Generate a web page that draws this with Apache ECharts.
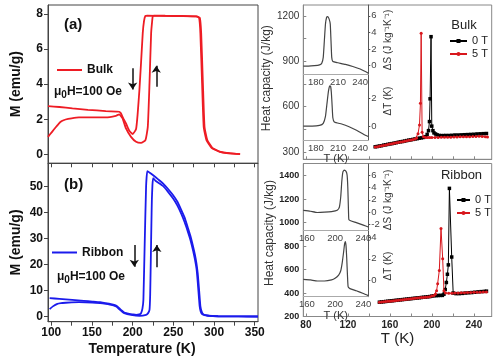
<!DOCTYPE html>
<html><head><meta charset="utf-8">
<script src="https://cdn.jsdelivr.net/npm/echarts@6/dist/echarts.min.js"></script>
<style>html,body{margin:0;padding:0;background:#fff}#c{width:500px;height:362px}</style>
</head><body><div id="c"></div>
<script>
// ---------- Panel (a): Bulk M(T), 100 Oe ----------
const bulkCoolT = [96,110,126,145,167,180,183.5,185.6,188,191.8,195.9,200,204.2,206.2,208.3,210.3,212.4,214,215.7,218,240,260,278,281.6,283.2,285.3,287.3,290.7,296.9,307,320,332];
const bulkCoolM = [2.75,2.7,2.62,2.54,2.47,2.44,2.43,2.35,2.1,1.77,1.35,1.16,1.45,2.34,3.67,5.2,6.9,7.6,7.88,7.89,7.88,7.87,7.85,7.77,6.9,4.05,1.57,0.82,0.38,0.15,0.06,0.02];
const bulkWarmT = [96,101,105,109.3,113,117.6,125,134,150,167,179.4,183.5,187.6,191.8,198,204.2,210.3,215.7,218.6,220.7,222.7,224,224.8,227,240,260,279,282.5,284.2,286.3,288.3,291.7,297.9,308,320,332];
const bulkWarmM = [1.0,1.29,1.52,1.76,1.9,1.99,2.06,2.11,2.11,2.11,2.2,2.28,2.06,1.48,1.0,0.72,0.66,0.82,1.57,4.05,6.9,7.6,7.88,7.9,7.89,7.88,7.85,7.77,6.9,4.05,1.57,0.82,0.38,0.15,0.06,0.02];
const arrowsA_T = [200, 229];
const arrowsA_from = [4.9, 3.85];
const arrowsA_to = [3.7, 5.05];

// ---------- Panel (b): Ribbon M(T), 100 Oe ----------
const ribCoolT = [98,110,125.8,140,150.5,160,167,172,177.3,180,183.5,186.5,189.7,195.9,200,204.2,208,210.3,212,213.2,214.8,216.5,218,221,224.8,231,237.2,243,249.5,255,259.8,264,268,271,274.3,276.5,278.4,280,281.3,282.3,283.3,284.8,286.6,290,294.8,305,320,340,354];
const ribCoolM = [7.07,6.8,6.42,6.05,5.77,5.5,5.13,4.9,4.49,4.15,3.2,2.3,1.55,1.03,0.82,0.64,0.8,1.28,3.0,6.4,28,50,56,55.4,54.5,52.9,51.3,49.3,46.8,44.2,41,38,34,31,26.9,23.8,20.5,16.5,11.5,7.5,3.8,1.9,0.9,0.5,0.26,0.1,0.03,0.01,0];
const ribWarmT = [98,102,107.5,112,117.8,125,134,150.5,160,167,172,177.3,180,183.5,186.5,189.7,198,208.3,216.5,219,220.7,221.5,222.3,223,223.6,224.3,225.2,228,237.2,243,249.5,255,259.8,264,268,271,274.3,276.5,278.4,279.5,280.5,281.5,282.3,283.5,285,288,292,305,320,354];
const ribWarmM = [2.84,3.9,4.88,5.15,5.3,5.45,5.5,5.38,5.15,4.87,4.6,4.2,3.8,2.82,2.0,1.28,0.64,0.26,0.64,1.3,2.56,8,21.8,35,44.9,50.5,53.3,52.3,50.3,48.2,45.5,42.7,39.5,36.2,32.5,29.5,25.3,22,18.5,15,11,7,4,2,1.0,0.5,0.3,0.1,0.03,0];
const arrowsB_T = [202, 229.7];
const arrowsB_from = [27.5, 19];
const arrowsB_to = [19.2, 27.5];

// ---------- Heat capacity, Bulk ----------
const bulk0T_T = [146,148,150,152,154,156,158,160,162,164,166,168,170,172,174,176,178,180,182,184,186,188,190,192,194,195.5,196.8,197.7,198.3,199.2,199.9,201,202,203.5,205,207,209,211,213,216,219,222,225,228,231,234,237,240,243,246,249,252];
const bulk0T_C = [333,335,338,340,344,346,349,352,354,357,360,363,366,368,371,374,377,379,382,385,387,390,392,395,400,415,440,500,651,1063,470,440,425,418,412,408,407,407,408,408,409,411,411,412,413,414,415,416,418,419,420,421];
const bulk5T_T = [146,148,150,152,154,156,158,160,162,164,166,168,170,172,174,176,178,180,182,184,185.5,186.8,188.2,189.1,189.8,190.7,192,194,196,198,200,203,206,209,212,215,218,221,224,227,230,233,236,239,242,245,248,251,253];
const bulk5T_C = [332,334,337,340,342,345,348,351,353,356,359,362,364,367,370,373,376,378,381,384,392,420,477,621,1086,430,400,395,394,394,394,395,395,396,396,397,397,398,398,399,399,400,400,401,401,402,401,400,398];

// ---------- Heat capacity, Ribbon ----------
const rib0T_T = [150,152,154,156,158,160,162,164,166,168,170,172,174,176,178,180,182,184,186,188,190,192,194,196,198,200,202,204,206,208,210,211.5,212.7,213.8,214.8,215.7,216.7,218.9,220.3,223,226,229,232,235,238,241,244,247,250,252];
const rib0T_C = [322,324,326,328,330,332,334,336,338,340,342,344,346,348,350,352,354,356,358,360,362,364,366,368,370,374,377,378,379,380,380,390,430,490,560,640,1292,707,400,395,395,397,400,402,404,407,410,412,414,416];
const rib5T_T = [150,152,154,156,158,160,162,164,166,168,170,172,174,176,178,180,182,184,186,188,190,192,194,196,198,200,202,203.5,204.5,205.5,207.1,208.7,210.3,211.5,213,216,219,222,225,228,231,234,237,240,243,246,249,252];
const rib5T_C = [321,323,325,327,329,331,333,335,337,339,341,343,345,347,349,351,353,355,357,359,361,363,365,367,369,375,380,392,420,480,593,950,693,420,400,398,399,400,401,402,403,404,405,406,407,407,408,408];

// ---------- Insets ----------
const insBulkDS_T = [163,170,178,185,188,190,191.5,193,194.5,196,198,199.5,200.5,201.5,203,210,220,230,240,247,251];
const insBulkDS_V = [-0.05,-0.05,0,0.1,0.3,1.0,3.0,5.0,5.8,5.9,5.6,5.0,3.0,1.0,0.5,0.35,0.15,-0.1,-0.4,-0.7,-0.9];
const insBulkDT_T = [163,175,185,190,193,195,197,198.7,200,201,202,203,205,215,225,235,245,251];
const insBulkDT_V = [0,0,0.05,0.2,0.7,1.6,2.5,2.9,2.85,2.4,1.5,0.6,0.3,0.15,-0.05,-0.3,-0.6,-0.75];
const insRibDS_T = [155,165,175,185,195,203,206,208,209.5,211,213,215.5,217,218,219,219.5,222,230,240,247];
const insRibDS_V = [0.3,0.15,-0.05,0,0.1,0.3,0.8,2.5,5,6.5,6.8,6.6,6.0,4,0,-1.2,-1.4,-1.7,-2.1,-2.4];
const insRibDT_T = [155,165,175,185,195,200,205,208,210,212,213.5,214.5,215.5,216.5,217.5,218.5,221,230,240,247];
const insRibDT_V = [0.1,0.05,-0.05,-0.05,0.05,0.2,0.5,0.9,1.6,2.6,3.4,3.6,3.2,2.0,0.5,-0.6,-0.75,-0.95,-1.2,-1.4];

// ---------- Tick labels ----------
const ticksLeftX = [100,150,200,250,300,350];
const minorLeftX = [100,125,150,175,200,225,250,275,300,325,350];
const ticksAY = [0,2,4,6,8];
const ticksBY = [0,10,20,30,40,50];
const ticksRightX = [80,120,160,200,240];
const minorRightX = [80,100,120,140,160,180,200,220,240];
const ticksBulkCY = [300,600,900,1200];
const ticksRibCY = [200,400,600,800,1000,1200,1400];
const ticksInsBulkX = [180,210,240];
const ticksInsRibX = [160,200,240];
const ticksInsBulkDS = [0,2,4,6];
const ticksInsBulkDT = [0,2];
const ticksInsRibDS = [-2,0,2,4,6];
const ticksInsRibDT = [0,2,4];

// =====================================================
const FF = '"Liberation Sans", Arial, Helvetica, sans-serif';
const RED = '#ee1c24', BLUE = '#1b1bec', RRED = '#d8161c';
const zip = (xs, ys) => xs.map((x, i) => [x, ys[i]]);
const arrows = (ts, fr, to) => ts.map((t, i) => ({coords: [[t, fr[i]], [t, to[i]]]}));

function axis(o) {
  const lc = o.lineColor || '#333';
  const a = {
    type: 'value', gridIndex: o.grid, min: o.min, max: o.max,
    position: o.position,
    splitLine: {show: false},
    axisLine: {show: true, onZero: false, lineStyle: {color: lc, width: 1}},
    axisTick: {show: !!o.ticks, inside: !!o.inside, length: o.tickLen || 4,
      customValues: o.ticks || [], lineStyle: {color: lc, width: 1}},
    axisLabel: {show: !!o.labels, customValues: o.labels || [], fontFamily: FF,
      formatter: v => String(v),
      fontSize: o.fs || 11, fontWeight: o.bold ? 'bold' : 'normal', color: o.color || '#111',
      margin: o.margin == null ? 5 : o.margin},
  };
  if (o.name) {
    a.name = o.name; a.nameLocation = 'middle'; a.nameGap = o.nameGap;
    a.nameTextStyle = Object.assign({fontFamily: FF, fontSize: o.nfs || 14,
      fontWeight: o.nbold ? 'bold' : 'normal', color: o.ncolor || '#111'}, o.nts || {});
  }
  return a;
}

const grids = [
  {left: 48, top: 5, width: 210, height: 158.3, show: true, borderColor: '#444', borderWidth: 1},
  {left: 48, top: 163.3, width: 210, height: 158.4, show: true, borderColor: '#444', borderWidth: 1},
  {left: 303.3, top: 5, width: 188.4, height: 154.3, show: true, borderColor: '#888', borderWidth: 1},
  {left: 303.3, top: 163.5, width: 188.4, height: 153, show: true, borderColor: '#888', borderWidth: 1},
  {left: 303.3, top: 5, width: 65, height: 69},
  {left: 303.3, top: 74, width: 65, height: 66},
  {left: 303.3, top: 164, width: 65, height: 66.7},
  {left: 303.3, top: 230.7, width: 65, height: 66},
].map(g => Object.assign({outerBoundsMode: 'none', containLabel: false}, g));

const xAxes = [
  axis({grid: 0, min: 96, max: 354, ticks: minorLeftX, lineColor: '#444'}),
  axis({grid: 1, min: 96, max: 354, ticks: minorLeftX, labels: ticksLeftX, bold: true, fs: 12, lineColor: '#444',
        name: 'Temperature (K)', nameGap: 20, nbold: true, nfs: 14, nts: {padding: [0, 22, 0, 0]}}),
  axis({grid: 2, min: 77.5, max: 257, ticks: minorRightX, inside: true, tickLen: 3, lineColor: '#888'}),
  axis({grid: 3, min: 77.5, max: 257, ticks: minorRightX, inside: true, tickLen: 3, lineColor: '#888',
        labels: ticksRightX, bold: true, fs: 10, color: '#222', margin: 4,
        name: 'T (K)', nameGap: 13, nfs: 15, ncolor: '#222'}),
  axis({grid: 4, min: 163, max: 251, lineColor: '#aaa', labels: ticksInsBulkX, fs: 9.5, color: '#444', margin: 3}),
  axis({grid: 5, min: 163, max: 251, lineColor: '#aaa', labels: ticksInsBulkX, fs: 9.5, color: '#444', margin: 3,
        name: 'T (K)', nameGap: 13, nfs: 11, ncolor: '#333'}),
  axis({grid: 6, min: 155, max: 247, lineColor: '#aaa', labels: ticksInsRibX, fs: 9.5, color: '#444', margin: 3}),
  axis({grid: 7, min: 155, max: 247, lineColor: '#aaa', labels: ticksInsRibX, fs: 9.5, color: '#444', margin: 3,
        name: 'T (K)', nameGap: 13, nfs: 11, ncolor: '#333'}),
];
const yAxes = [
  axis({grid: 0, min: -0.5, max: 8.5, ticks: ticksAY, labels: ticksAY, bold: true, fs: 12, lineColor: '#444',
        name: 'M (emu/g)', nameGap: 25, nbold: true, nfs: 14}),
  axis({grid: 1, min: -2, max: 59, ticks: ticksBY, labels: ticksBY, bold: true, fs: 12, lineColor: '#444',
        name: 'M (emu/g)', nameGap: 25, nbold: true, nfs: 14}),
  axis({grid: 2, min: 250, max: 1273, ticks: [300,450,600,750,900,1050,1200], inside: true, tickLen: 3, lineColor: '#888',
        labels: ticksBulkCY, fs: 10, color: '#333', margin: 4,
        name: 'Heat capacity (J/kg)', nameGap: 26, nfs: 12, ncolor: '#333', nts: {padding: [0, 0, 0, 8]}}),
  axis({grid: 3, min: 200, max: 1504, ticks: ticksRibCY, inside: true, tickLen: 3, lineColor: '#888',
        labels: ticksRibCY, bold: true, fs: 9, color: '#222', margin: 4,
        name: 'Heat capacity (J/kg)', nameGap: 26, nfs: 12, ncolor: '#333', nts: {padding: [0, 0, 0, 14]}}),
  axis({grid: 4, min: -1, max: 7.3, position: 'right', lineColor: '#555', ticks: ticksInsBulkDS, labels: ticksInsBulkDS, fs: 9.5, color: '#444', margin: 3, tickLen: 2}),
  axis({grid: 5, min: -1, max: 3.75, position: 'right', lineColor: '#555', ticks: ticksInsBulkDT, labels: ticksInsBulkDT, fs: 9.5, color: '#444', margin: 3, tickLen: 2}),
  axis({grid: 6, min: -3, max: 7.8, position: 'right', lineColor: '#555', ticks: ticksInsRibDS, labels: ticksInsRibDS, fs: 9.5, color: '#444', margin: 3, tickLen: 2}),
  axis({grid: 7, min: -1.5, max: 4.6, position: 'right', lineColor: '#555', ticks: ticksInsRibDT, labels: ticksInsRibDT, fs: 9.5, color: '#444', margin: 3, tickLen: 2}),
];

function mLine(name, xi, data, color, w) {
  return {type: 'line', name, xAxisIndex: xi, yAxisIndex: xi, data, symbol: 'none', showSymbol: false,
    smooth: 0.15, lineStyle: {color, width: w}, itemStyle: {color}, silent: true, z: 3};
}
function cpLine(name, xi, data, color, sym, size) {
  return {type: 'line', name, xAxisIndex: xi, yAxisIndex: xi, data, symbol: sym, symbolSize: size, showSymbol: true,
    lineStyle: {color, width: 1}, itemStyle: {color}, silent: true, z: name === '5 T' ? 4 : 3};
}
function arrowSeries(xi, data) {
  return {type: 'lines', coordinateSystem: 'cartesian2d', xAxisIndex: xi, yAxisIndex: xi, data,
    symbol: ['none', 'arrow'], symbolSize: [0, 7], lineStyle: {color: '#111', width: 1.5, opacity: 1}, silent: true, z: 5};
}

const series = [
  mLine('Bulk', 0, zip(bulkCoolT, bulkCoolM), RED, 1.8),
  mLine('Bulk', 0, zip(bulkWarmT, bulkWarmM), RED, 1.8),
  arrowSeries(0, arrows(arrowsA_T, arrowsA_from, arrowsA_to)),
  mLine('Ribbon', 1, zip(ribCoolT, ribCoolM), BLUE, 1.8),
  mLine('Ribbon', 1, zip(ribWarmT, ribWarmM), BLUE, 1.8),
  arrowSeries(1, arrows(arrowsB_T, arrowsB_from, arrowsB_to)),
  cpLine('0 T', 2, zip(bulk0T_T, bulk0T_C), '#000', 'rect', 3.5),
  cpLine('5 T', 2, zip(bulk5T_T, bulk5T_C), RRED, 'circle', 3),
  cpLine('0 T', 3, zip(rib0T_T, rib0T_C), '#000', 'rect', 3.5),
  cpLine('5 T', 3, zip(rib5T_T, rib5T_C), RRED, 'circle', 3),
  mLine('insBulkDS', 4, zip(insBulkDS_T, insBulkDS_V), '#444', 1.2),
  mLine('insBulkDT', 5, zip(insBulkDT_T, insBulkDT_V), '#444', 1.2),
  mLine('insRibDS', 6, zip(insRibDS_T, insRibDS_V), '#444', 1.2),
  mLine('insRibDT', 7, zip(insRibDT_T, insRibDT_V), '#444', 1.2),
];

const legends = [
  {data: [{name: 'Bulk', icon: 'rect'}], left: 57, top: 64, itemWidth: 25, itemHeight: 2, padding: 0, itemGap: 0,
   textStyle: {fontFamily: FF, fontSize: 12, fontWeight: 'bold', color: '#111'}},
  {data: [{name: 'Ribbon', icon: 'rect'}], left: 52, top: 246.5, itemWidth: 25, itemHeight: 2, padding: 0, itemGap: 0,
   textStyle: {fontFamily: FF, fontSize: 12, fontWeight: 'bold', color: '#111'}},
  {data: ['0 T', '5 T'], orient: 'vertical', left: 449, top: 35.5, itemWidth: 17, itemHeight: 5, itemGap: 2, padding: 0,
   textStyle: {fontFamily: FF, fontSize: 11, color: '#222'}},
  {data: ['0 T', '5 T'], orient: 'vertical', left: 456, top: 194.5, itemWidth: 13, itemHeight: 5, itemGap: 2, padding: 0,
   textStyle: {fontFamily: FF, fontSize: 11, color: '#222'}},
].map(l => Object.assign({selectedMode: false}, l));

function txt(x, y, text, fs, opts) {
  return Object.assign({type: 'text', x, y, silent: true, z: 10,
    style: Object.assign({text, fontFamily: FF, fontSize: fs, fill: '#111', verticalAlign: 'middle', align: 'left'}, opts && opts.style || {})},
    opts && opts.el || {});
}
function mu0H(x, y) {
  return {type: 'text', x, y, silent: true, z: 10, style: {
    text: '{m|μ}{s|0}{m|H=100 Oe}', verticalAlign: 'middle', align: 'left',
    rich: {
      m: {fontFamily: FF, fontSize: 12, fontWeight: 'bold', fill: '#111', lineHeight: 16, verticalAlign: 'middle'},
      s: {fontFamily: FF, fontSize: 10, fontWeight: 'bold', fill: '#111', lineHeight: 16, verticalAlign: 'bottom', padding: [6, 0, 0, 0]}
    }}};
}
const rot = {el: {rotation: Math.PI / 2}, style: {align: 'center', fill: '#333'}};
const graphics = [
  txt(64, 25, '(a)', 15, {style: {fontWeight: 'bold'}}),
  txt(64, 185, '(b)', 15, {style: {fontWeight: 'bold'}}),
  mu0H(54, 92),
  mu0H(57, 277),
  txt(464, 25, 'Bulk', 13, {style: {align: 'center', fill: '#222'}}),
  txt(461.5, 175, 'Ribbon', 13, {style: {align: 'center', fill: '#222'}}),
  txt(388, 40, 'ΔS (J kg⁻¹K⁻¹)', 10, rot),
  txt(388, 101, 'ΔT (K)', 10, rot),
  txt(388, 200, 'ΔS (J kg⁻¹K⁻¹)', 10, rot),
  txt(388, 266, 'ΔT (K)', 10, rot),
];

const chart = echarts.init(document.getElementById('c'), null, {renderer: 'canvas', width: 500, height: 362});
chart.setOption({
  animation: false,
  backgroundColor: '#fff',
  textStyle: {fontFamily: FF},
  grid: grids, xAxis: xAxes, yAxis: yAxes, series, legend: legends, graphic: graphics,
  tooltip: {show: false}
});
</script></body></html>
